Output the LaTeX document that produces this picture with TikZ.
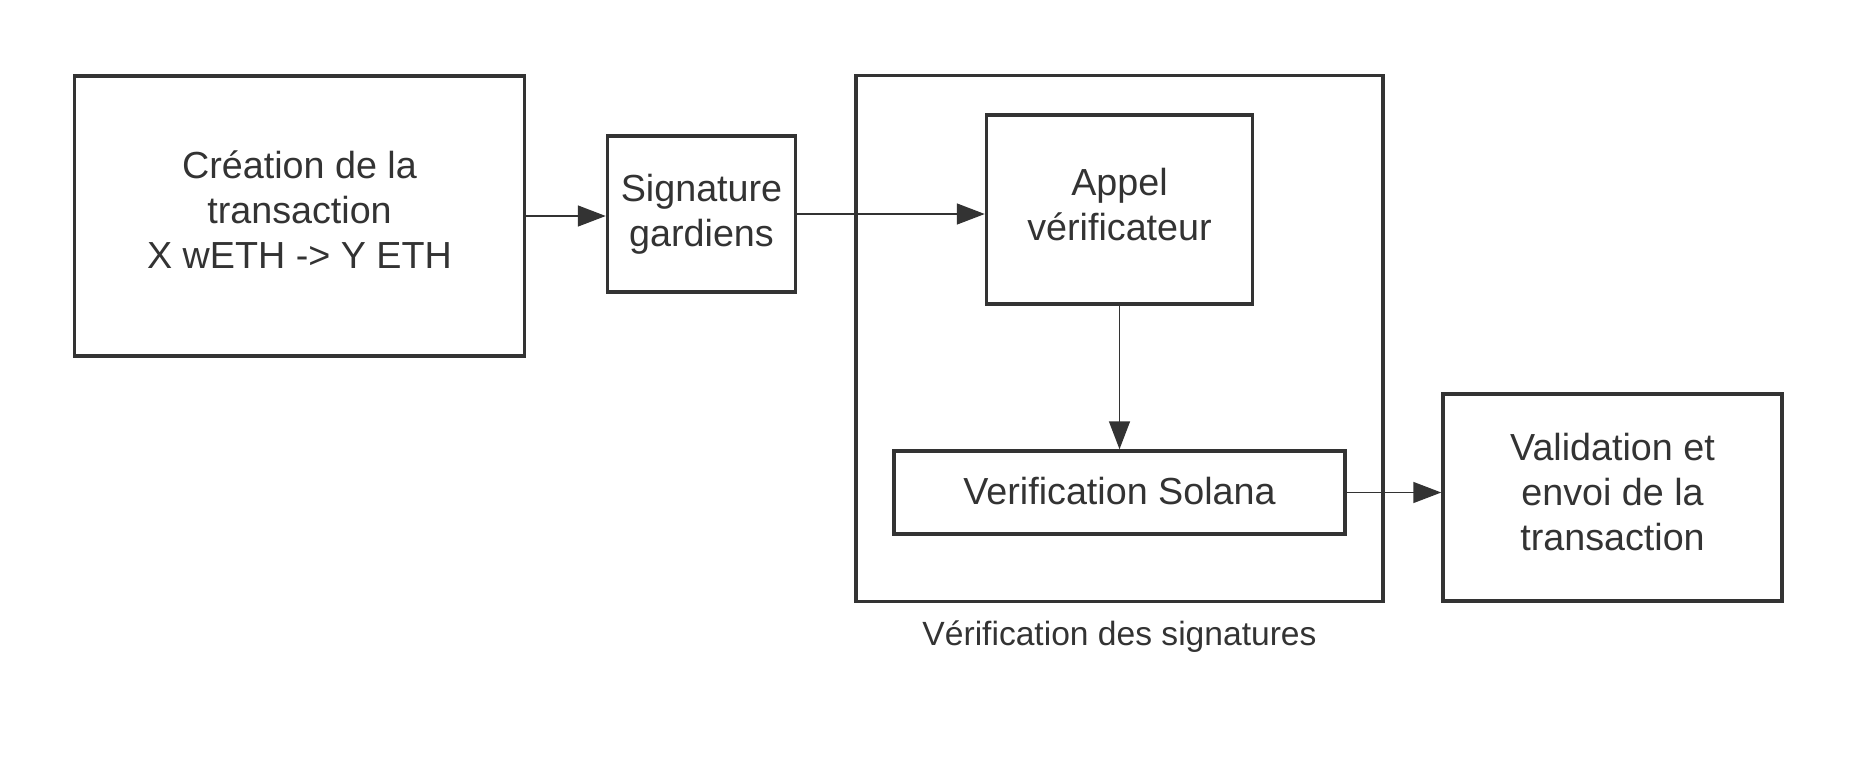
\documentclass[tikz,border=0pt]{standalone}
\usepackage{fontspec}
\setmainfont{Liberation Sans}
\usetikzlibrary{arrows.meta,positioning}
\definecolor{boxGray}{RGB}{51,51,51}

\tikzset{
    stepbox/.style={draw=boxGray, line width=3.5pt, inner sep=0pt},
    boxtext/.style={align=center, inner sep=0pt, text=boxGray, font=\fontsize{37.7}{45}\selectfont},
    flow/.style={draw=boxGray, line width=1.6pt, -{Triangle[length=28pt,width=21pt]}},
}

\begin{document}
\begin{tikzpicture}[x=1pt, y=-1pt]
        \useasboundingbox (0, 0) rectangle (1856, 769);

        \node[stepbox, minimum width=450, minimum height=280] (creation) at (299.5, 216) {};
        \node[boxtext] (creationtxt) at (299.5, 210)
            {Création de la\\transaction\\X wETH -> Y ETH};

        \node[stepbox, minimum width=188, minimum height=156] (signature) at (701.5, 214) {};
        \node[boxtext] (signaturetxt) at (701.5, 214) {Signature\\gardiens};

        % verification block
        \node[stepbox, minimum width=527, minimum height=526] (verifbloc) at (1119.5, 338.5) {};
        \node[text=boxGray, inner sep=0pt, font=\fontsize{33.6}{40}\selectfont] (veriflabel)
            at (1119.5, 636.5) {Vérification des signatures};

        \node[stepbox, minimum width=266, minimum height=189] (appel) at (1119.5, 209.5) {};
        \node[boxtext] (appeltxt) at (1119.5, 205) {Appel\\vérificateur};

        \node[stepbox, minimum width=451, minimum height=83] (solana) at (1119.5, 492.5) {};
        \node[boxtext] (solanatxt) at (1119.5, 491.5) {Verification Solana};

        \node[stepbox, minimum width=339, minimum height=207] (validation) at (1612.5, 497.5) {};
        \node[boxtext] (validationtxt) at (1612.5, 492.5)
            {Validation et\\envoi de la\\transaction};

        \draw[flow] (creation.east) -- (creation.east -| signature.west);
        \draw[flow] (signature.east) -- (signature.east -| appel.west);
        \draw[flow] (appel.south) -- (solana.north);
        \draw[flow] (solana.east) -- (solana.east -| validation.west);
    \end{tikzpicture}
\end{document}
